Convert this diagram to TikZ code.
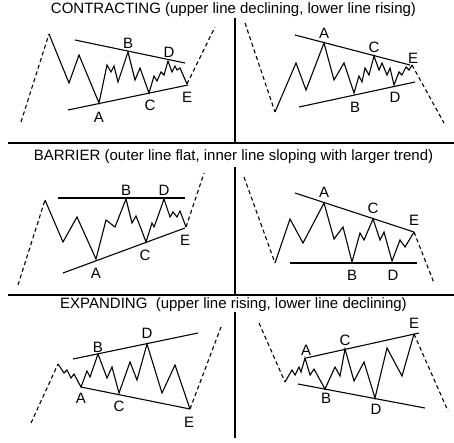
\documentclass[tikz,border=0pt]{standalone}
\usepackage{fontspec}
\setmainfont{Liberation Sans}
\usetikzlibrary{calc}

\begin{document}
\begin{tikzpicture}[x=1pt,y=-1pt,line width=1.1pt,
	lead/.style={dash pattern=on 4pt off 3pt},
	lbl/.style={font=\fontsize{15}{17}\selectfont,inner sep=0pt},
	ttl/.style={font=\fontsize{15}{17}\selectfont,inner sep=0pt,anchor=base},
	sep/.style={line width=1.4pt}]
	\useasboundingbox (0,0) rectangle (454,442);
	\draw[sep] (8,143) -- (454,143);
	\draw[sep] (8,295) -- (454,295);
	\draw[sep] (235,18) -- (235,143);
	\draw[sep] (235,167) -- (235,295);
	\draw[sep] (235,312) -- (235,438);
	\node[ttl] (t1) at (233.5,13) {CONTRACTING (upper line declining, lower line rising)};
	\node[ttl] (t2) at (233.5,160) {BARRIER (outer line flat, inner line sloping with larger trend)};
	\node[ttl] (t3) at (233.5,308) {EXPANDING\ \ (upper line rising, lower line declining)};
	
	\coordinate (s1) at (49,34);
	\coordinate (a1) at (99,103);
	\coordinate (b1) at (128,52);
	\coordinate (c1) at (149,93);
	\coordinate (d1) at (168,61);
	\coordinate (e1) at (187,84);
	\draw[lead] (21,122) -- (s1);
	\draw (s1) -- (69,83) -- (79,55) -- (a1) -- (107,65) -- (111,72) -- (114,66) -- (118,82) -- (b1) -- (135,80) -- (140,68) -- (c1) -- (154,76) -- (157,81) -- (161,72) -- (164,75) -- (d1) -- (172,72) -- (175,66) -- (177,70) -- (180,68) -- (e1);
	\draw (75,40) -- (185,63);
	\draw (68,110) -- (188,85);
	\draw[lead] (e1) -- (215,27);
	\node[lbl] (la1) at (99,117) {A};
	\node[lbl] (lb1) at (128,43) {B};
	\node[lbl] (lc1) at (150,105) {C};
	\node[lbl] (ld1) at (169,52) {D};
	\node[lbl] (le1) at (187,97) {E};
	
	\coordinate (s2) at (275,112);
	\coordinate (a2) at (324,43);
	\coordinate (b2) at (354,93);
	\coordinate (c2) at (374,56);
	\coordinate (d2) at (394,85);
	\coordinate (e2) at (412,65);
	\draw[lead] (245,23) -- (s2);
	\draw (s2) -- (296,63) -- (306,90) -- (a2) -- (334,80) -- (344,63) -- (b2) -- (359,76) -- (362,82) -- (365,68) -- (369,75) -- (c2) -- (379,70) -- (382,63) -- (387,75) -- (390,68) -- (d2) -- (399,72) -- (402,75) -- (406,67) -- (409,70) -- (e2);
	\draw (295,35) -- (410,65);
	\draw (299,107) -- (415,82);
	\draw[lead] (e2) -- (444,123);
	\node[lbl] (la2) at (324,33) {A};
	\node[lbl] (lb2) at (355,107) {B};
	\node[lbl] (lc2) at (374,47) {C};
	\node[lbl] (ld2) at (395,97) {D};
	\node[lbl] (le2) at (413,58) {E};
	
	\coordinate (s3) at (45,200);
	\coordinate (a3) at (96,259);
	\coordinate (b3) at (126,199);
	\coordinate (c3) at (146,242);
	\coordinate (d3) at (164,199);
	\coordinate (e3) at (186,227);
	\draw[lead] (18,285) -- (s3);
	\draw (s3) -- (63,242) -- (77,217) -- (a3) -- (106,220) -- (115,227) -- (b3) -- (132,223) -- (136,216) -- (140,226) -- (c3) -- (152,223) -- (154,227) -- (157,219) -- (d3) -- (170,217) -- (173,212) -- (177,217) -- (180,211) -- (e3);
	\draw (58,198) -- (185,198);
	\draw (63,273) -- (185,228);
	\draw[lead] (e3) -- (204,173);
	\node[lbl] (la3) at (96,273) {A};
	\node[lbl] (lb3) at (126,190) {B};
	\node[lbl] (lc3) at (145,255) {C};
	\node[lbl] (ld3) at (164,190) {D};
	\node[lbl] (le3) at (185,240) {E};
	
	\coordinate (s4) at (275,263);
	\coordinate (a4) at (324,203);
	\coordinate (b4) at (352,262);
	\coordinate (c4) at (373,219);
	\coordinate (d4) at (392,261);
	\coordinate (e4) at (414,232);
	\draw[lead] (244,177) -- (s4);
	\draw (s4) -- (290,219) -- (303,243) -- (a4) -- (334,239) -- (343,227) -- (b4) -- (360,233) -- (364,240) -- (c4) -- (380,240) -- (384,232) -- (d4) -- (400,240) -- (405,247) -- (e4);
	\draw (295,193) -- (414,232);
	\draw (290,263) -- (417,263);
	\draw[lead] (e4) -- (434,283);
	\node[lbl] (la4) at (324,192) {A};
	\node[lbl] (lb4) at (352,275) {B};
	\node[lbl] (lc4) at (373,208) {C};
	\node[lbl] (ld4) at (393,275) {D};
	\node[lbl] (le4) at (414,220) {E};
	
	\coordinate (s5) at (58,364);
	\coordinate (a5) at (81,387);
	\coordinate (b5) at (98,354);
	\coordinate (c5) at (119,393);
	\coordinate (d5) at (147,344);
	\coordinate (e5) at (190,409);
	\draw[lead] (31,423) -- (s5);
	\draw (s5) -- (64,373) -- (67,370) -- (71,378) -- (74,374) -- (a5) -- (87,371) -- (90,377) -- (b5) -- (107,378) -- (112,367) -- (c5) -- (130,362) -- (137,380) -- (d5) -- (162,393) -- (175,365) -- (e5);
	\draw (73,359) -- (198,333);
	\draw (81,387) -- (190,409);
	\draw[lead] (e5) -- (221,327);
	\node[lbl] (la5) at (81,398) {A};
	\node[lbl] (lb5) at (98,347) {B};
	\node[lbl] (lc5) at (119,406) {C};
	\node[lbl] (ld5) at (147,333) {D};
	\node[lbl] (le5) at (189,422) {E};
	
	\coordinate (s6) at (285,382);
	\coordinate (a6) at (305,358);
	\coordinate (b6) at (325,389);
	\coordinate (c6) at (345,349);
	\coordinate (d6) at (375,398);
	\coordinate (e6) at (414,334);
	\draw[lead] (259,323) -- (s6);
	\draw (s6) -- (292,370) -- (295,375) -- (299,367) -- (301,372) -- (a6) -- (310,375) -- (314,369) -- (b6) -- (335,367) -- (340,376) -- (c6) -- (354,381) -- (364,362) -- (d6) -- (387,348) -- (402,376) -- (e6);
	\draw (306,358) -- (419,333);
	\draw (298,384) -- (425,408);
	\draw[lead] (e6) -- (448,411);
	\node[lbl] (la6) at (306,350) {A};
	\node[lbl] (lb6) at (326,398) {B};
	\node[lbl] (lc6) at (345,340) {C};
	\node[lbl] (ld6) at (376,409) {D};
	\node[lbl] (le6) at (414,323) {E};
\end{tikzpicture}
\end{document}
